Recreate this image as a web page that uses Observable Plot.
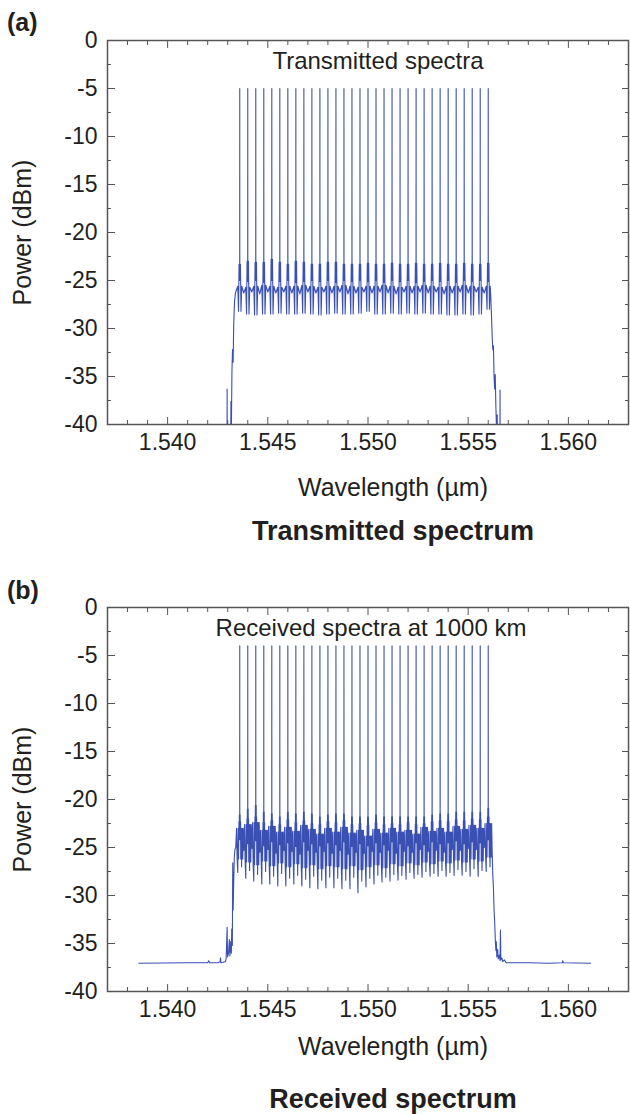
<!DOCTYPE html>
<html>
<head>
<meta charset="utf-8">
<script src="https://cdn.jsdelivr.net/npm/d3@7"></script>
<script src="https://cdn.jsdelivr.net/npm/@observablehq/plot@0.6"></script>
<style>
  html, body { margin: 0; padding: 0; background: #fff; }
  #page { position: relative; width: 630px; height: 1114px; overflow: hidden; font-family: "Liberation Sans", Arial, sans-serif; color: #231f20; }
  .abs { position: absolute; white-space: nowrap; line-height: 1; }
  .panel { position: absolute; left: 0; }
  .cap { font-weight: bold; font-size: 27px; transform: translate(-50%, -50%); }
  .lab { font-weight: bold; font-size: 25px; transform: translateY(-50%); }
</style>
</head>
<body>
<div id="page"></div>
<script>
// ---------- Data ----------
// Channel centre wavelengths (µm), 32 channels
const chanWl = [1.5436, 1.5440, 1.5444, 1.5448, 1.5452, 1.5456, 1.5460, 1.5464,
                1.5468, 1.5472, 1.5476, 1.5480, 1.5484, 1.5488, 1.5492, 1.5496,
                1.5500, 1.5504, 1.5508, 1.5512, 1.5516, 1.5520, 1.5524, 1.5528,
                1.5532, 1.5536, 1.5540, 1.5544, 1.5548, 1.5552, 1.5556, 1.5560];

// (a) Transmitted spectrum, per-channel levels (dBm)
const peakA   = [-5,-5,-5,-5,-5,-5,-5,-5,-5,-5,-5,-5,-5,-5,-5,-5,-5,-5,-5,-5,-5,-5,-5,-5,-5,-5,-5,-5,-5,-5,-5,-5];
const upperA  = [-23.3,-23.0,-23.1,-23.1,-22.8,-23.1,-23.3,-23.0,-23.1,-23.3,-23.3,-23.1,-23.1,-23.3,-23.3,-23.3,
                 -23.2,-23.3,-23.3,-23.2,-23.3,-23.3,-23.2,-23.3,-23.3,-23.2,-23.3,-23.3,-23.2,-23.3,-23.3,-23.2];
const blockA  = [-25.0,-25.1,-25.0,-25.2,-25.0,-25.1,-25.0,-25.2,-25.1,-25.0,-25.1,-25.0,-25.2,-25.0,-25.1,-25.0,
                 -25.1,-25.0,-25.2,-25.0,-25.1,-25.0,-25.2,-25.1,-25.0,-25.1,-25.0,-25.2,-25.0,-25.1,-25.0,-25.1];
const dipA    = [-28.2,-28.5,-28.6,-28.5,-28.5,-28.4,-28.5,-28.5,-28.4,-28.5,-28.6,-28.5,-28.4,-28.5,-28.5,-28.4,
                 -28.2,-28.5,-28.5,-28.4,-28.5,-28.4,-28.5,-28.4,-28.5,-28.5,-28.6,-28.6,-28.5,-28.6,-28.5,-28.0];
const shoulderA = [-25.6,-25.7,-25.6,-25.5,-25.6,-25.7,-25.6,-25.6,-25.5,-25.6,-25.7,-25.6,-25.6,-25.5,-25.6,-25.7,
                   -25.6,-25.6,-25.5,-25.6,-25.7,-25.6,-25.6,-25.5,-25.6,-25.7,-25.6,-25.6,-25.5,-25.6,-25.7,-25.6];
const valleyA = [-26.2,-26.3,-26.2,-26.4,-26.2,-26.3,-26.2,-26.3,-26.4,-26.2,-26.3,-26.2,-26.3,-26.2,-26.4,-26.3,
                 -26.2,-26.3,-26.2,-26.3,-26.4,-26.2,-26.3,-26.2,-26.3,-26.2,-26.4,-26.3,-26.2,-26.3,-26.2,-26.3];
// (a) band edges [wavelength µm, power dBm]
const edgeLeftA = [[1.5428,-50],[1.54296,-50],[1.54297,-36.3],[1.54298,-50],[1.54313,-50],[1.54316,-37.6],
                   [1.54318,-41],[1.54321,-34.5],[1.54324,-32.2],[1.54327,-33.5],[1.5433,-29.5],[1.54334,-27.2],[1.54338,-26.4]];
const edgeRightA = [[1.55612,-26.4],[1.55616,-28.5],[1.5562,-31],[1.55623,-32.2],[1.55626,-31.8],[1.55629,-35],
                    [1.55632,-36.3],[1.55635,-34.8],[1.55638,-38],[1.55642,-41],[1.55645,-39],[1.55648,-50],
                    [1.55658,-50],[1.55659,-36.4],[1.5566,-50],[1.5575,-50]];

// (b) Received spectrum at 1000 km, per-channel levels (dBm)
const peakB   = [-4,-4,-4,-4,-4,-4,-4,-4,-4,-4,-4,-4,-4,-4,-4,-4,-4,-4,-4,-4,-4,-4,-4,-4,-4,-4,-4,-4,-4,-4,-4,-4];
const upperB  = [-21.6,-21.0,-20.6,-21.3,-21.5,-21.8,-21.3,-21.5,-21.3,-21.5,-21.8,-21.6,-21.5,-21.5,-21.8,-21.8,
                 -21.8,-21.6,-21.8,-21.8,-21.8,-21.8,-21.8,-21.8,-21.6,-21.5,-21.5,-21.3,-21.3,-21.3,-21.3,-20.9];
const upper2B = [-22.3,-22.0,-21.8,-22.4,-22.2,-22.6,-22.1,-22.4,-22.2,-22.5,-22.6,-22.3,-22.4,-22.2,-22.6,-22.5,
                 -22.7,-22.4,-22.6,-22.5,-22.6,-22.4,-22.6,-22.5,-22.3,-22.2,-22.3,-22.1,-22.2,-22.0,-22.1,-21.8];
const bandB   = [-24.2,-24.6,-24.3,-24.8,-24.4,-24.7,-24.5,-24.9,-24.4,-24.6,-24.8,-24.5,-24.7,-24.4,-24.9,-24.6,
                 -24.8,-24.5,-24.7,-24.4,-24.6,-24.8,-24.5,-24.7,-24.4,-24.6,-24.5,-24.3,-24.6,-24.4,-24.5,-24.2];
const secondB = [-23.0,-22.6,-22.4,-23.2,-22.8,-23.4,-22.9,-23.3,-22.7,-23.1,-23.6,-23.0,-23.4,-22.9,-23.5,-23.2,
                 -23.8,-23.1,-23.5,-23.0,-23.4,-23.2,-23.6,-22.9,-23.3,-23.0,-23.4,-22.8,-23.1,-22.7,-23.0,-22.5];
const lowMidB = [-26.2,-26.5,-26.8,-26.4,-26.9,-26.6,-27.0,-26.7,-27.1,-26.8,-27.2,-26.9,-27.0,-27.2,-26.9,-27.3,
                 -27.0,-26.8,-27.1,-26.7,-26.9,-26.6,-26.8,-26.5,-26.7,-26.4,-26.6,-26.3,-26.5,-26.2,-26.4,-26.0];
const dipB    = [-27.6,-28.2,-28.5,-28.8,-28.8,-29.0,-29.0,-28.8,-29.0,-29.2,-29.3,-29.2,-29.2,-29.3,-29.3,-29.7,
                 -29.1,-28.8,-28.6,-28.5,-28.4,-28.3,-28.2,-28.1,-28.0,-28.0,-28.0,-27.9,-27.9,-28.0,-28.0,-27.5];
const dip2B   = [-27.0,-27.4,-27.8,-27.5,-28.0,-27.7,-28.2,-27.9,-28.3,-28.0,-28.4,-28.1,-28.2,-28.4,-28.1,-28.5,
                 -28.2,-27.9,-28.1,-27.8,-27.9,-27.6,-27.8,-27.5,-27.7,-27.4,-27.6,-27.3,-27.5,-27.2,-27.4,-27.0];
const valleyB = [-25.0,-25.3,-25.1,-25.5,-25.2,-25.6,-25.3,-25.4,-25.7,-25.3,-25.5,-25.4,-25.6,-25.3,-25.7,-25.5,
                 -25.6,-25.4,-25.5,-25.3,-25.6,-25.4,-25.5,-25.2,-25.4,-25.3,-25.5,-25.2,-25.3,-25.1,-25.2,-25.0];
const edgeLeftB = [[1.53856,-37.05],[1.5410,-37.0],[1.5420,-37.0],[1.54205,-36.8],[1.5421,-37.0],[1.5425,-37.0],
                   [1.54262,-36.9],[1.54264,-36.5],[1.54266,-37.0],[1.54288,-36.9],[1.54292,-36.6],[1.54297,-33.3],
                   [1.54299,-36.4],[1.54304,-36.0],[1.54308,-34.6],[1.54311,-36.3],[1.54315,-34.8],[1.54318,-36.0],
                   [1.5432,-33.5],[1.54323,-35.2],[1.54325,-26.6],[1.54327,-31.5],[1.5433,-28.5],[1.54333,-26.0],[1.54336,-25.2]];
const edgeRightB = [[1.5562,-25.8],[1.55623,-28.0],[1.55626,-29.2],[1.55629,-31.5],[1.55632,-32.6],[1.55635,-34.5],
                    [1.55638,-35.7],[1.5564,-34.8],[1.55643,-36.4],[1.55647,-35.6],[1.5565,-36.6],[1.55655,-36.2],
                    [1.55659,-36.8],[1.55661,-33.6],[1.55663,-36.7],[1.55668,-36.5],[1.55672,-36.9],[1.5568,-36.7],
                    [1.5569,-37.0],[1.5580,-37.0],[1.5590,-37.05],[1.5597,-37.0],[1.55972,-36.8],[1.55975,-37.0],[1.5611,-37.05]];

// Sample order inside one channel: [offset from channel centre (µm), level name]
const shapeA = [[-0.0002,"valley"],[-0.0001,"shoulder"],[-0.00006,"dip"],[-0.000045,"block"],
                [-0.000035,"upper"],[-0.000025,"block"],[-0.000015,"upper"],[-0.000006,"block"],
                [-0.000002,"upper"],[0,"peak"],[0.000002,"upper"],[0.000006,"block"],
                [0.000015,"upper"],[0.000025,"block"],[0.000035,"upper"],[0.000045,"block"],
                [0.00006,"dip"],[0.0001,"shoulder"]];
const shapeB = [[-0.0002,"valley"],[-0.00016,"second"],[-0.00013,"lowMid"],[-0.0001,"dip"],
                [-0.00008,"second"],[-0.00006,"lowMid"],[-0.00004,"upper2"],[-0.00003,"band"],
                [-0.00002,"upper"],[-0.00001,"band"],[-0.000002,"upper"],[0,"peak"],
                [0.000002,"upper"],[0.00001,"band"],[0.00002,"upper"],[0.00003,"band"],
                [0.00004,"upper2"],[0.00005,"lowMid"],[0.00007,"second"],[0.00009,"dip2"],
                [0.00012,"second"],[0.00015,"lowMid"],[0.00017,"second"]];

// Tick values
const xMajor = [1.540, 1.545, 1.550, 1.555, 1.560];
const xMinor = [1.538, 1.539, 1.541, 1.542, 1.543, 1.544, 1.546, 1.547, 1.548, 1.549, 1.551, 1.552,
                1.553, 1.554, 1.556, 1.557, 1.558, 1.559, 1.561, 1.562];
const yMajor = [-40, -35, -30, -25, -20, -15, -10, -5, 0];
const yMinor = [-37.5, -32.5, -27.5, -22.5, -17.5, -12.5, -7.5, -2.5];

// ---------- Build line tables ----------
function buildSpectrum(edgeLeft, shape, levels, edgeRight) {
  const rows = edgeLeft.map(([wl, p]) => ({wl, p}));
  chanWl.forEach((c, i) => {
    shape.forEach(([off, key]) => rows.push({wl: c + off, p: levels[key][i]}));
  });
  edgeRight.forEach(([wl, p]) => rows.push({wl, p}));
  return rows;
}
const specA = buildSpectrum(edgeLeftA, shapeA,
  {valley: valleyA, shoulder: shoulderA, dip: dipA, upper: upperA, block: blockA, peak: peakA}, edgeRightA);
const specB = buildSpectrum(edgeLeftB, shapeB,
  {valley: valleyB, second: secondB, lowMid: lowMidB, dip: dipB, dip2: dip2B, upper: upperB, upper2: upper2B, band: bandB, peak: peakB}, edgeRightB);

const ink = "#231f20";
const axisGray = "#555";
const blue = "#3a50b2";
const blank = () => "";

function panel(data, annotation, annDx, wlDy) {
  return Plot.plot({
    width: 630, height: 505,
    marginLeft: 107, marginRight: 2, marginTop: 40, marginBottom: 81,
    style: {fontFamily: "'Liberation Sans', Arial, sans-serif", fontSize: "23px", color: ink, background: "transparent", overflow: "visible"},
    x: {domain: [1.537, 1.563], label: null},
    y: {domain: [-40, 0], label: null},
    marks: [
      Plot.line(data, {x: "wl", y: "p", stroke: blue, strokeWidth: 1.1, clip: true}),
      // labels
      Plot.axisX(xMajor, {anchor: "bottom", tickSize: 0, tickPadding: 9, tickFormat: d3.format(".3f"), fontSize: 23, fill: ink}),
      Plot.axisY(yMajor, {anchor: "left", tickSize: 0, tickPadding: 10, tickFormat: d => String(d), fontSize: 23, fill: ink}),
      // inward ticks
      Plot.axisX(xMajor, {anchor: "bottom", tickSize: -7, tickFormat: blank, stroke: axisGray}),
      Plot.axisX(xMinor, {anchor: "bottom", tickSize: -4, tickFormat: blank, stroke: axisGray}),
      Plot.axisX(xMajor, {anchor: "top", tickSize: -7, tickFormat: blank, stroke: axisGray}),
      Plot.axisX(xMinor, {anchor: "top", tickSize: -4, tickFormat: blank, stroke: axisGray}),
      Plot.axisY(yMajor, {anchor: "left", tickSize: -8, tickFormat: blank, stroke: axisGray}),
      Plot.axisY(yMinor, {anchor: "left", tickSize: -4, tickFormat: blank, stroke: axisGray}),
      Plot.axisY(yMajor, {anchor: "right", tickSize: -7, tickFormat: blank, stroke: axisGray}),
      Plot.axisY(yMinor, {anchor: "right", tickSize: -4, tickFormat: blank, stroke: axisGray}),
      Plot.frame({stroke: axisGray, strokeWidth: 1.5}),
      Plot.text([annotation], {text: d => d, frameAnchor: "top", dx: annDx, dy: 21, lineAnchor: "middle", fontSize: 24, fill: ink}),
      Plot.text(["Power (dBm)"], {text: d => d, frameAnchor: "left", dx: -85, rotate: -90, textAnchor: "middle", lineAnchor: "middle", fontSize: 25, fill: ink}),
      Plot.text(["Wavelength (\u00b5m)"], {text: d => d, frameAnchor: "bottom", dx: 25, dy: wlDy, lineAnchor: "middle", fontSize: 25, fill: ink})
    ]
  });
}

const page = document.getElementById("page");
function addDiv(cls, text, left, top) {
  const d = document.createElement("div");
  d.className = "abs " + cls;
  d.textContent = text;
  d.style.left = left + "px";
  d.style.top = top + "px";
  page.appendChild(d);
}

const pa = panel(specA, "Transmitted spectra", 10, 63);
pa.classList.add("panel"); pa.style.top = "0px";
page.appendChild(pa);
const pb = panel(specB, "Received spectra at 1000 km", 3, 55);
pb.classList.add("panel"); pb.style.top = "567px";
page.appendChild(pb);

addDiv("lab", "(a)", 7, 22);
addDiv("lab", "(b)", 7, 590);
addDiv("cap", "Transmitted spectrum", 393, 531);
addDiv("cap", "Received spectrum", 393, 1099);
</script>
</body>
</html>
